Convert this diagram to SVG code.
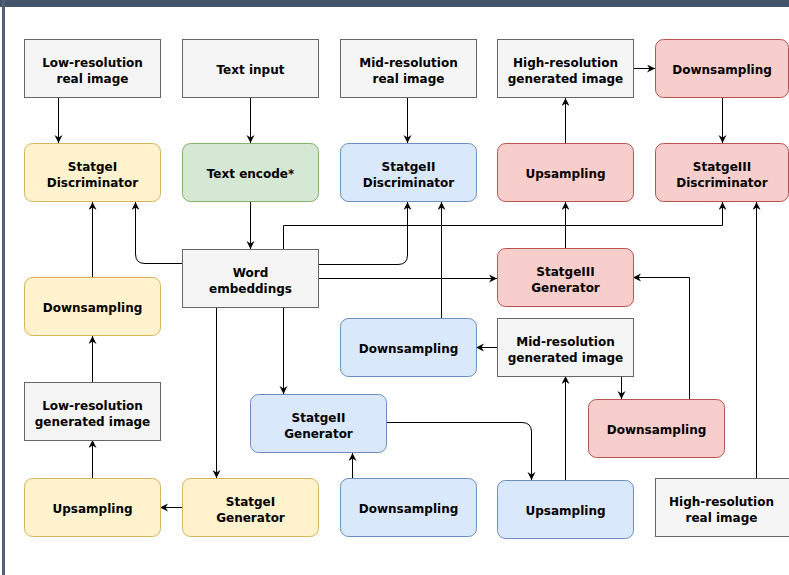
<svg xmlns="http://www.w3.org/2000/svg" width="789" height="575" viewBox="0 0 789 575">
<style>
text{font-family:"DejaVu Sans",Verdana,sans-serif;font-size:12px;font-weight:bold;fill:#000;text-anchor:middle}
.g{fill:#f5f5f5;stroke:#666666;stroke-width:1}
.y{fill:#fff2cc;stroke:#d6b656;stroke-width:1}
.gr{fill:#d5e8d4;stroke:#82b366;stroke-width:1}
.b{fill:#dae8fc;stroke:#6c8ebf;stroke-width:1}
.r{fill:#f8cecc;stroke:#b85450;stroke-width:1}
.e path{fill:none;stroke:#000;stroke-width:1;marker-end:url(#arr)}
</style>
<defs>
<marker id="arr" markerUnits="userSpaceOnUse" markerWidth="10" markerHeight="10" refX="8" refY="4" orient="auto">
<path d="M0,0 L8,4 L0,8 L2.5,4 z" fill="#000" stroke="none"/>
</marker>
</defs>
<rect x="0" y="0" width="789" height="575" fill="#ffffff"/>
<rect x="0" y="0" width="789" height="7" fill="#44546b"/>
<rect x="2" y="0" width="3" height="575" fill="#50607a"/>

<g class="e" id="connectors">
<path d="M58.5,98 V143"/>
<path d="M250.5,82 V143"/>
<path d="M250.5,202 V249"/>
<path d="M407.5,98 V143"/>
<path d="M633,68.5 H655"/>
<path d="M565.5,143 V98"/>
<path d="M722.5,98 V143"/>
<path d="M92.5,277 V202"/>
<path d="M182,263.5 H145 Q135.5,263.5 135.5,254 V202"/>
<path d="M283.5,249 V225.5 H722.5 V202"/>
<path d="M317,264.5 H398 Q407.5,264.5 407.5,255 V202"/>
<path d="M317,278.5 H497"/>
<path d="M441.5,318 V202"/>
<path d="M565.5,248 V202"/>
<path d="M497,347.5 H476"/>
<path d="M599,376.5 H621.5 V399"/>
<path d="M689.5,399 V277.5 H633"/>
<path d="M756.5,478 V202"/>
<path d="M92.5,382 V336"/>
<path d="M92.5,478 V440"/>
<path d="M182,507.5 H160"/>
<path d="M216.5,307 V478"/>
<path d="M283.5,307 V394"/>
<path d="M374,478.5 H352.5 V453"/>
<path d="M387,422.5 H522 Q531.5,422.5 531.5,432 V480"/>
<path d="M565.5,480 V376"/>
</g>

<g id="low-res-real"><rect class="g" x="24.5" y="39.5" width="136" height="58"/><text x="92.5" y="66.5">Low-resolution</text><text x="92.5" y="82.5">real image</text></g>
<g id="text-input"><rect class="g" x="182.5" y="39.5" width="136" height="58"/><text x="250.5" y="73.5">Text input</text></g>
<g id="mid-res-real"><rect class="g" x="340.5" y="39.5" width="136" height="58"/><text x="408.5" y="66.5">Mid-resolution</text><text x="408.5" y="82.5">real image</text></g>
<g id="high-res-gen"><rect class="g" x="497.5" y="39.5" width="136" height="58"/><text x="565.5" y="66.5">High-resolution</text><text x="565.5" y="82.5">generated image</text></g>
<g id="downsampling-3a"><rect class="r" x="655.5" y="39.5" width="133" height="58" rx="8"/><text x="722" y="73.5">Downsampling</text></g>

<g id="disc-1"><rect class="y" x="24.5" y="143.5" width="136" height="58" rx="8"/><text x="92.5" y="171">StatgeI</text><text x="92.5" y="187">Discriminator</text></g>
<g id="text-encode"><rect class="gr" x="182.5" y="143.5" width="136" height="58" rx="8"/><text x="250.5" y="177.5">Text encode*</text></g>
<g id="disc-2"><rect class="b" x="340.5" y="143.5" width="136" height="58" rx="8"/><text x="408.5" y="171">StatgeII</text><text x="408.5" y="187">Discriminator</text></g>
<g id="upsampling-3"><rect class="r" x="497.5" y="143.5" width="136" height="58" rx="8"/><text x="565.5" y="177.5">Upsampling</text></g>
<g id="disc-3"><rect class="r" x="655.5" y="143.5" width="133" height="58" rx="8"/><text x="722" y="171">StatgeIII</text><text x="722" y="187">Discriminator</text></g>

<g id="word-emb"><rect class="g" x="182.5" y="249.5" width="136" height="58"/><text x="250.5" y="276.5">Word</text><text x="250.5" y="292.5">embeddings</text></g>
<g id="downsampling-1"><rect class="y" x="24.5" y="277.5" width="136" height="58" rx="8"/><text x="92.5" y="311.5">Downsampling</text></g>
<g id="gen-3"><rect class="r" x="497.5" y="248.5" width="136" height="58" rx="8"/><text x="565.5" y="276">StatgeIII</text><text x="565.5" y="292">Generator</text></g>
<g id="downsampling-2a"><rect class="b" x="340.5" y="318.5" width="136" height="58" rx="8"/><text x="408.5" y="352.5">Downsampling</text></g>
<g id="mid-res-gen"><rect class="g" x="497.5" y="318.5" width="136" height="58"/><text x="565.5" y="345.5">Mid-resolution</text><text x="565.5" y="361.5">generated image</text></g>

<g id="low-res-gen"><rect class="g" x="24.5" y="382.5" width="136" height="58"/><text x="92.5" y="409.5">Low-resolution</text><text x="92.5" y="425.5">generated image</text></g>
<g id="gen-2"><rect class="b" x="250.5" y="394.5" width="136" height="58" rx="8"/><text x="318.5" y="421.5">StatgeII</text><text x="318.5" y="437.5">Generator</text></g>
<g id="downsampling-3b"><rect class="r" x="588.5" y="399.5" width="136" height="58" rx="8"/><text x="656.5" y="433.5">Downsampling</text></g>

<g id="upsampling-1"><rect class="y" x="24.5" y="478.5" width="136" height="58" rx="8"/><text x="92.5" y="512.5">Upsampling</text></g>
<g id="gen-1"><rect class="y" x="182.5" y="478.5" width="136" height="58" rx="8"/><text x="250.5" y="505.5">StatgeI</text><text x="250.5" y="521.5">Generator</text></g>
<g id="downsampling-2b"><rect class="b" x="340.5" y="478.5" width="136" height="58" rx="8"/><text x="408.5" y="512.5">Downsampling</text></g>
<g id="upsampling-2"><rect class="b" x="497.5" y="480.5" width="136" height="58" rx="8"/><text x="565.5" y="514.5">Upsampling</text></g>
<g id="high-res-real"><rect class="g" x="655.5" y="478.5" width="140" height="58"/><text x="721.5" y="505.5">High-resolution</text><text x="721.5" y="521.5">real image</text></g>
</svg>
